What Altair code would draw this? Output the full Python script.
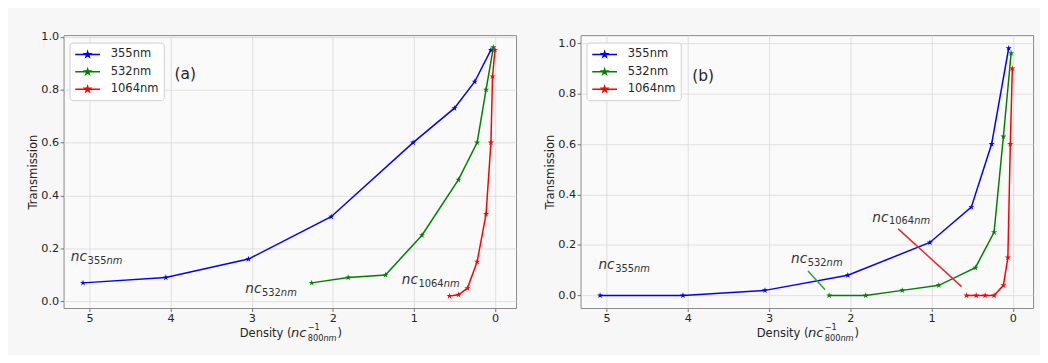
import altair as alt
import pandas as pd

# ---------------- data ----------------
SERIES = ["355nm", "532nm", "1064nm"]
COLORS = ["#0000ff", "#008000", "#ff0000"]

# panel (a)
A_355_X = [5.08, 4.06, 3.04, 2.02, 1.01, 0.50, 0.25, 0.05]
A_355_Y = [0.07, 0.09, 0.16, 0.32, 0.60, 0.73, 0.83, 0.95]
A_532_X = [2.26, 1.81, 1.35, 0.90, 0.45, 0.22, 0.11, 0.02]
A_532_Y = [0.07, 0.09, 0.10, 0.25, 0.46, 0.60, 0.80, 0.96]
A_1064_X = [0.56, 0.45, 0.34, 0.22, 0.11, 0.05, 0.03, 0.00]
A_1064_Y = [0.02, 0.025, 0.05, 0.15, 0.33, 0.60, 0.85, 0.95]

# panel (b)
B_355_X = [5.08, 4.06, 3.05, 2.03, 1.02, 0.51, 0.26, 0.05]
B_355_Y = [0.00, 0.00, 0.02, 0.08, 0.21, 0.35, 0.60, 0.98]
B_532_X = [2.26, 1.81, 1.36, 0.91, 0.46, 0.23, 0.115, 0.02]
B_532_Y = [0.00, 0.00, 0.02, 0.04, 0.11, 0.25, 0.63, 0.96]
B_1064_X = [0.57, 0.45, 0.34, 0.23, 0.115, 0.06, 0.03, 0.005]
B_1064_Y = [0.00, 0.00, 0.00, 0.00, 0.04, 0.15, 0.60, 0.90]

# annotations (critical densities)
ANN_DIGITS = ["355", "532", "1064"]
A_ANN_X = [5.23, 3.08, 1.15]
A_ANN_Y = [0.152, 0.03, 0.066]
B_ANN_X = [5.10, 2.73, 1.73]
B_ANN_Y = [0.105, 0.127, 0.293]
B_ARROW_X1 = [2.52, 1.41]
B_ARROW_Y1 = [0.097, 0.264]
B_ARROW_X2 = [2.31, 0.63]
B_ARROW_Y2 = [0.022, 0.035]
B_ARROW_COLOR = ["#3a9a3a", "#e02a2a"]

PANEL_LABELS = ["(a)", "(b)"]
PANEL_LABEL_X = [3.82, 3.81]
PANEL_LABEL_Y = [0.86, 0.869]

X_TICKS = [0, 1, 2, 3, 4, 5]
Y_TICKS = [0.0, 0.2, 0.4, 0.6, 0.8, 1.0]

# ---------------- style ----------------
W, H = 456, 275
FONT = "DejaVu Sans"
TXT = "#262626"


def star_path(cx, cy, r):
    import math
    pts = []
    for k in range(10):
        ang = math.radians(-90 + 36 * k)
        rr = r if k % 2 == 0 else r * 0.382
        pts.append((cx + rr * math.cos(ang), cy + rr * math.sin(ang)))
    return "M" + "L".join(f"{x:.3f},{y:.3f}" for x, y in pts) + "Z"


STAR = star_path(0, 0, 1)
LEGEND_SYMBOL = "M-1,0L3,0" + star_path(1, 0, 0.45)


def series_df(xs_list, ys_list):
    rows = []
    for name, xs, ys in zip(SERIES, xs_list, ys_list):
        for i, (x, y) in enumerate(zip(xs, ys)):
            rows.append({"density": x, "trans": y, "series": name, "idx": i})
    return pd.DataFrame(rows)


def text_width(s, size):
    widths = {"n": 0.634, "c": 0.55, "m": 0.974}
    return sum(widths.get(ch, 0.636) for ch in s) * size


def panel(df, xdom, ydom, ann_x, ann_y, label_i, arrows=None):
    xs = alt.Scale(domain=xdom, reverse=True, nice=False, zero=False)
    ys = alt.Scale(domain=ydom, nice=False, zero=False)
    xax = alt.Axis(values=X_TICKS, format="d", title=None, grid=True)
    yax = alt.Axis(values=Y_TICKS, format=".1f", title="Transmission", grid=True)

    base = alt.Chart(df)
    lines = base.mark_line(
        strokeWidth=1.5,
        point=alt.OverlayMarkDef(shape=STAR, filled=True, size=42, opacity=1),
    ).encode(
        x=alt.X("density:Q", scale=xs, axis=xax),
        y=alt.Y("trans:Q", scale=ys, axis=yax),
        order="idx:Q",
        color=alt.Color(
            "series:N",
            scale=alt.Scale(domain=SERIES, range=COLORS),
            legend=alt.Legend(
                title=None,
                orient="none",
                legendX=6,
                legendY=7.5,
                direction="vertical",
                symbolType=LEGEND_SYMBOL,
                symbolSize=156,
                symbolStrokeWidth=1.5,
                labelOffset=22.5,
                labelFont=FONT,
                labelFontSize=11.6,
                labelColor=TXT,
                labelExpr="datum.label + '\u00a0\u00a0\u00a0'",
                padding=5,
                rowPadding=4.5,
                fillColor="#ffffff",
                strokeColor="#d0d0d0",
                cornerRadius=3,
            ),
        ),
    )
    layers = [lines]

    # critical-density annotations: nc + subscript
    for dig, ax_, ay_ in zip(ANN_DIGITS, ann_x, ann_y):
        d = pd.DataFrame({"x": [ax_], "y": [ay_], "nc": ["nc"], "dig": [dig], "nm": ["nm"]})
        w_nc = text_width("nc", 13.8) + 0.5
        w_dig = text_width(dig, 10)
        layers.append(alt.Chart(d).mark_text(align="left", baseline="alphabetic", font=FONT,
                                             fontSize=13.8, fontStyle="italic", color="#333333")
                      .encode(x=alt.X("x:Q", scale=xs), y=alt.Y("y:Q", scale=ys), text="nc:N"))
        layers.append(alt.Chart(d).mark_text(align="left", baseline="alphabetic", font=FONT,
                                             fontSize=10, color="#333333", dx=w_nc, dy=3)
                      .encode(x=alt.X("x:Q", scale=xs), y=alt.Y("y:Q", scale=ys), text="dig:N"))
        layers.append(alt.Chart(d).mark_text(align="left", baseline="alphabetic", font=FONT,
                                             fontSize=10, fontStyle="italic", color="#333333",
                                             dx=w_nc + w_dig, dy=3)
                      .encode(x=alt.X("x:Q", scale=xs), y=alt.Y("y:Q", scale=ys), text="nm:N"))

    if arrows is not None:
        adf = pd.DataFrame(arrows)
        layers.append(alt.Chart(adf).mark_rule(strokeWidth=1.5).encode(
            x=alt.X("x1:Q", scale=xs), y=alt.Y("y1:Q", scale=ys),
            x2="x2:Q", y2="y2:Q", color=alt.Color("c:N", scale=None)))

    # panel label
    pl = pd.DataFrame({"x": [PANEL_LABEL_X[label_i]], "y": [PANEL_LABEL_Y[label_i]],
                       "t": [PANEL_LABELS[label_i]]})
    layers.append(alt.Chart(pl).mark_text(align="center", baseline="middle", font=FONT,
                                          fontSize=15.5, color=TXT)
                  .encode(x=alt.X("x:Q", scale=xs), y=alt.Y("y:Q", scale=ys), text="t:N"))

    # x axis title: Density (nc^{-1}_{800nm})
    x0 = 177.5
    pieces = [
        ("Density (", 0, 29, 11.6, "normal"),
        ("nc", 51.7, 29, 13.2, "italic"),
        ("\u22121", 68.5, 22.6, 8.3, "normal"),
        ("800", 68.5, 33.6, 8.3, "normal"),
        ("nm", 68.5 + text_width("800", 8.3), 33.6, 8.3, "italic"),
        (")", 98.5, 29, 11.6, "normal"),
    ]
    for t, dx, dy, fs, st in pieces:
        layers.append(alt.Chart(pd.DataFrame({"t": [t]})).mark_text(
            align="left", baseline="alphabetic", font=FONT, fontSize=fs, fontStyle=st, color=TXT)
            .encode(x=alt.value(x0 + dx), y=alt.value(H + dy), text="t:N"))

    return alt.layer(*layers).properties(width=W, height=H)


df_a = series_df([A_355_X, A_532_X, A_1064_X], [A_355_Y, A_532_Y, A_1064_Y])
df_b = series_df([B_355_X, B_532_X, B_1064_X], [B_355_Y, B_532_Y, B_1064_Y])

pa = panel(df_a, [-0.26, 5.32], [-0.025, 1.006], A_ANN_X, A_ANN_Y, 0)
pb = panel(df_b, [-0.25, 5.32], [-0.05, 1.032], B_ANN_X, B_ANN_Y, 1,
           arrows={"x1": B_ARROW_X1, "y1": B_ARROW_Y1, "x2": B_ARROW_X2,
                   "y2": B_ARROW_Y2, "c": B_ARROW_COLOR})

chart = alt.hconcat(pa, pb, spacing=27).resolve_scale(color="independent").resolve_legend(
    color="independent"
).properties(
    background="#f7f7f7",
    padding={"left": 19, "top": 21, "right": 6, "bottom": 10},
).configure_view(
    stroke="#8a8a8a", strokeWidth=1, fill="#fafafa"
).configure_axis(
    domain=False,
    labelFont=FONT,
    labelFontSize=11.3,
    labelColor=TXT,
    titleFont=FONT,
    titleFontSize=11.7,
    titleFontWeight="normal",
    titleColor=TXT,
    titlePadding=2,
    tickSize=3.5,
    tickColor="#555555",
    tickWidth=0.8,
    labelPadding=1.5,
    gridColor="#d9d9d9",
    gridWidth=0.8,
)

chart.save("out.html", embed_options={"renderer": "svg", "actions": False})
